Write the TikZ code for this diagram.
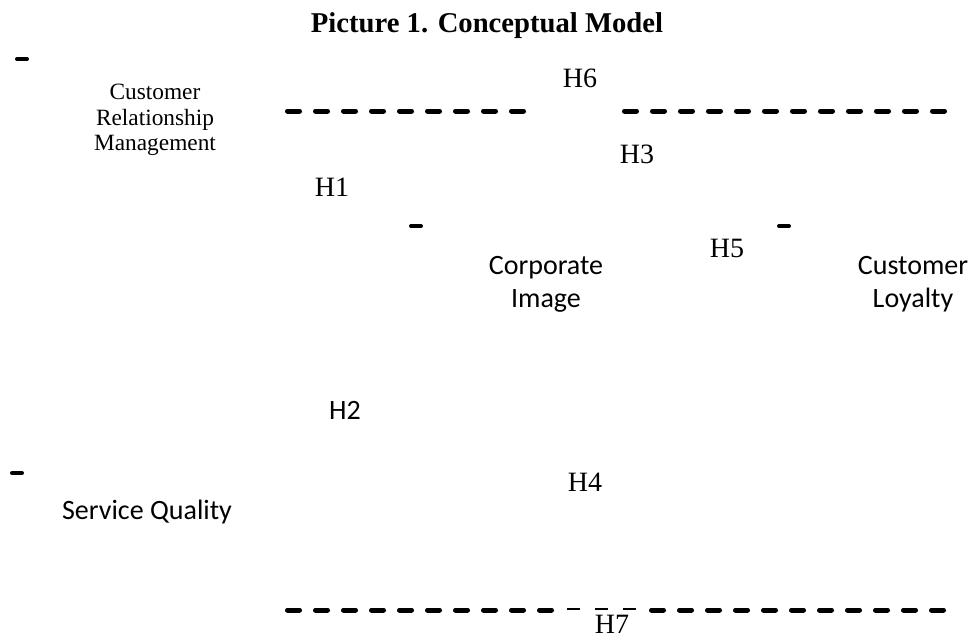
\documentclass[tikz,border=0pt]{standalone}
\usepackage{fontspec}
\setmainfont{Liberation Serif}
\newfontfamily\calib{Carlito}
\begin{document}
\begin{tikzpicture}[x=0.75pt,y=-0.75pt,
  hser/.style={font=\fontsize{21}{24}\selectfont, inner sep=0pt},
  hsans/.style={font=\calib\fontsize{21}{24}\selectfont, inner sep=0pt},
  concept/.style={font=\calib\fontsize{21}{24.75}\selectfont, align=center, inner sep=0pt},
  crm/.style={font=\fontsize{17.5}{19}\selectfont, align=center, inner sep=0pt},
  thickdash/.style={line width=3.75pt, line cap=round, dash pattern=on 9pt off 12pt},
  thindash/.style={line width=1.5pt, dash pattern=on 9.75pt off 11.25pt},
  smalltick/.style={line width=3pt, line cap=round}]
\useasboundingbox (0,0) rectangle (974,639);
% title
\node[anchor=base, inner sep=0pt, font=\bfseries\fontsize{21.5}{25}\selectfont] (title) at (487,32) {Picture 1. Conceptual Model};
% concepts
\node[crm] (crm) at (155,120) {Customer\\Relationship\\Management};
\node[concept] (ci) at (546,284) {Corporate\\Image};
\node[concept] (cl) at (913,284) {Customer\\Loyalty};
\node[hsans] (sq) at (147,512) {Service Quality};
% hypotheses
\node[hser] (h6) at (580,78) {H6};
\node[hser] (h3) at (637,154) {H3};
\node[hser] (h1) at (332,187) {H1};
\node[hser] (h5) at (727,248) {H5};
\node[hsans] (h2) at (345,410) {H2};
\node[hser] (h4) at (585,482) {H4};
\node[hser] (h7) at (612,624) {H7};
% small marks
\coordinate (m1a) at (17,59); \coordinate (m1b) at (27,59);
\coordinate (m2a) at (411,226); \coordinate (m2b) at (421,226);
\coordinate (m3a) at (779,226); \coordinate (m3b) at (789,226);
\coordinate (m4a) at (12,473); \coordinate (m4b) at (22,473);
\draw[smalltick] (m1a) -- (m1b);
\draw[smalltick] (m2a) -- (m2b);
\draw[smalltick] (m3a) -- (m3b);
\draw[smalltick] (m4a) -- (m4b);
% dashed lines
\coordinate (t1a) at (287.5,111); \coordinate (t1b) at (530,111);
\coordinate (t2a) at (624.5,111); \coordinate (t2b) at (945,111);
\coordinate (b1a) at (287.5,610); \coordinate (b1b) at (558,610);
\coordinate (b2a) at (567,609); \coordinate (b2b) at (640,609);
\coordinate (b3a) at (651.5,610); \coordinate (b3b) at (945,610);
\draw[thickdash] (t1a) -- (t1b);
\draw[thickdash] (t2a) -- (t2b);
\draw[thickdash] (b1a) -- (b1b);
\draw[thindash] (b2a) -- (b2b);
\draw[thickdash] (b3a) -- (b3b);
\end{tikzpicture}
\end{document}
